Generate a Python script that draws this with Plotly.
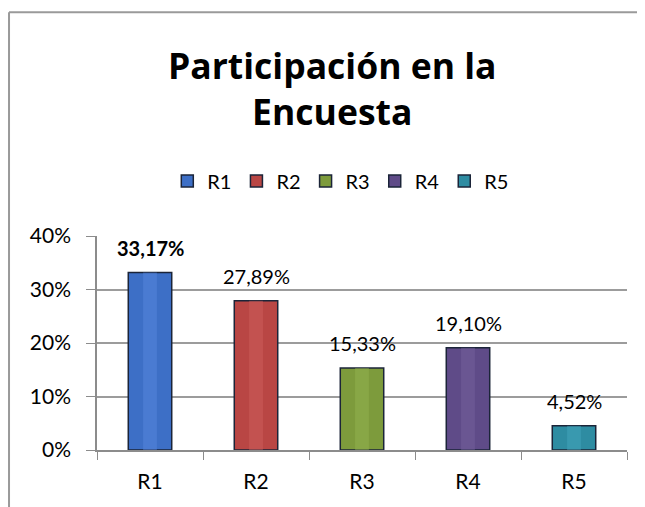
import plotly.graph_objects as go

categories = ["R1", "R2", "R3", "R4", "R5"]
values = [33.17, 27.89, 15.33, 19.10, 4.52]
colors = ["#3D6FC6", "#B94644", "#7D9B3C", "#5F4B88", "#2E8CA2"]
light_colors = ["#5A8AE0", "#D06260", "#97B552", "#7763A0", "#47A8BE"]
bold_label = [True, False, False, False, False]
y_ticks = [0, 10, 20, 30, 40]
y_tick_labels = ["0%", "10%", "20%", "30%", "40%"]
title_text = "Participación en la<br>Encuesta"

FONT = "Lato, 'Open Sans', sans-serif"
TFONT = "'Open Sans', Lato, sans-serif"

fig = go.Figure()
for cat, val, col in zip(categories, values, colors):
    fig.add_trace(go.Bar(
        x=[cat], y=[val], name=cat, width=0.41,
        marker=dict(color=col, line=dict(color="#1B2438", width=1.5)),
        hoverinfo="skip",
    ))
for cat, val, lc in zip(categories, values, light_colors):
    fig.add_trace(go.Bar(
        x=[cat], y=[val], width=0.13, showlegend=False,
        marker=dict(color=lc, opacity=0.45, line=dict(width=0)),
        hoverinfo="skip",
    ))

annotations = []
for cat, val, b in zip(categories, values, bold_label):
    txt = f"{val:.2f}%".replace(".", ",")
    if b:
        txt = f"<b>{txt}</b>"
    annotations.append(dict(
        x=cat, y=val, xref="x", yref="y", text=txt, showarrow=False,
        yanchor="middle", yshift=25,
        font=dict(family=FONT, size=20, color="#000000"),
    ))
annotations.append(dict(
    x=0.445, y=1.69, xref="paper", yref="paper", text=f"<b>{title_text}</b>",
    showarrow=False, xanchor="center", yanchor="middle",
    font=dict(family=TFONT, size=35.5, color="#000000"),
))

frame_col = "#9A9A9A"
shapes = [
    dict(type="rect", xref="paper", yref="paper", x0=-0.175, x1=-0.166, y0=2.04, y1=-0.3,
         line=dict(width=0), fillcolor="#D9D9D9"),
    dict(type="line", xref="paper", yref="paper", x0=-0.166, x1=-0.166, y0=2.045, y1=-0.3,
         line=dict(color=frame_col, width=2)),
    dict(type="line", xref="paper", yref="paper", x0=-0.166, x1=1.05, y0=2.045, y1=2.045,
         line=dict(color=frame_col, width=2)),
]

fig.update_layout(
    width=637, height=499,
    margin=dict(l=89, r=18, t=228, b=57),
    paper_bgcolor="white", plot_bgcolor="white",
    barmode="overlay",
    showlegend=True,
    legend=dict(orientation="h", x=0.46, y=1.257, xanchor="center", yanchor="middle",
                font=dict(family=FONT, size=20, color="#000000"),
                itemwidth=30, tracegroupgap=0, traceorder="normal"),
    annotations=annotations,
    shapes=shapes,
    font=dict(family=FONT, color="#000000"),
)
fig.update_xaxes(
    showline=True, linecolor="#8C8C8C", linewidth=1.5,
    ticks="outside", tickson="boundaries", ticklen=8, tickcolor="#8C8C8C",
    tickfont=dict(family=FONT, size=21, color="#000000"),
    ticklabelstandoff=12, showgrid=False,
)
fig.update_yaxes(
    range=[0, 40], tickvals=y_ticks, ticktext=y_tick_labels,
    showline=True, linecolor="#8C8C8C", linewidth=1.5,
    showgrid=True, gridcolor="#9C9C9C", gridwidth=1.5,
    ticks="outside", ticklen=9, tickcolor="#8C8C8C",
    tickfont=dict(family=FONT, size=21, color="#000000"),
    ticklabelstandoff=11, zeroline=False,
)

fig.write_html("out.html")
